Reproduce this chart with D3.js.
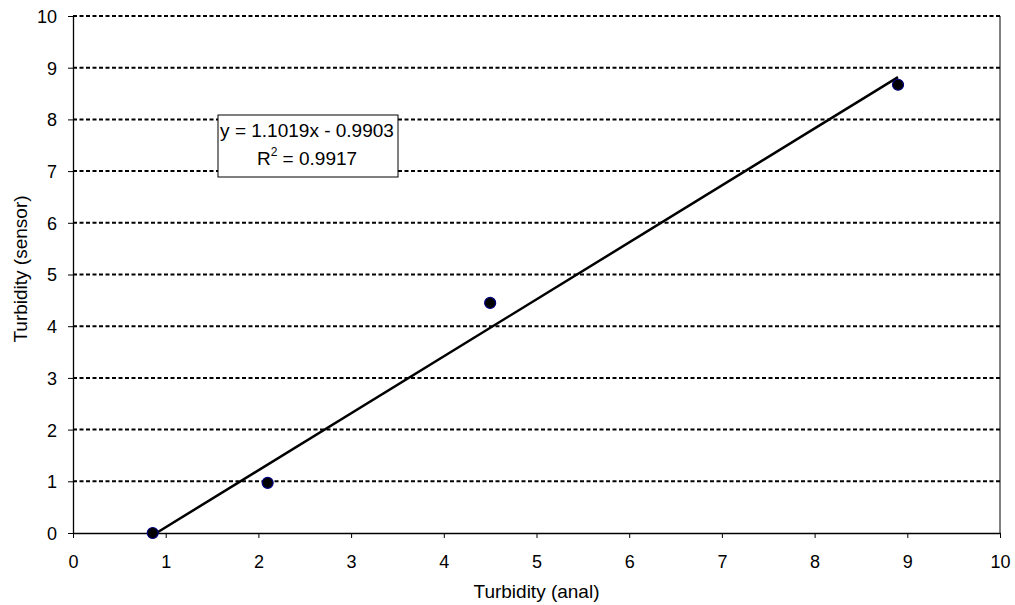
<!DOCTYPE html>
<html>
<head>
<meta charset="utf-8">
<script src="https://cdn.jsdelivr.net/npm/d3@7"></script>
<style>
  body { margin: 0; background: #fff; }
  svg text { font-family: "Liberation Sans", Arial, sans-serif; fill: #000; }
</style>
</head>
<body>
<div id="chart"></div>
<script>
// measured points
const analValues = [0.86, 2.1, 4.5, 8.9];
const sensorValues = [0.0, 0.97, 4.45, 8.67];
const tickValues = [0, 1, 2, 3, 4, 5, 6, 7, 8, 9, 10];
// trendline from the equation label
const slope = 1.1019;
const intercept = -0.9903;
const eqLabel = "y = 1.1019x - 0.9903";
const r2Value = "0.9917";

const width = 1015, height = 605;
const margin = { top: 16, right: 15, bottom: 72, left: 73 };
const tickFont = 18, labelFont = 19;

const svg = d3.select('#chart').append('svg')
    .attr('width', width)
    .attr('height', height);

const x = d3.scaleLinear().domain([0, 10]).range([margin.left, width - margin.right]);
const y = d3.scaleLinear().domain([0, 10]).range([height - margin.bottom, margin.top]);

// dashed gridlines
svg.append('g')
    .selectAll('line')
    .data(tickValues.filter(d => d > 0))
    .enter()
    .append('line')
    .attr('x1', x(0))
    .attr('x2', x(10))
    .attr('y1', d => y(d))
    .attr('y2', d => y(d))
    .attr('stroke', '#000')
    .attr('stroke-width', 2)
    .attr('stroke-dasharray', '4,2.5');

// right border of plot area
svg.append('line')
    .attr('x1', x(10)).attr('x2', x(10))
    .attr('y1', y(10)).attr('y2', y(0))
    .attr('stroke', '#000')
    .attr('stroke-width', 1);

const xAxis = svg.append('g')
    .attr('transform', `translate(0,${y(0)})`)
    .call(d3.axisBottom(x).tickValues(tickValues).tickSize(5).tickSizeOuter(0).tickPadding(9));

const yAxis = svg.append('g')
    .attr('transform', `translate(${x(0)},0)`)
    .call(d3.axisLeft(y).tickValues(tickValues).tickSize(5).tickSizeOuter(0).tickPadding(11));

[xAxis, yAxis].forEach(a => {
    a.attr('font-size', tickFont).attr('font-family', '"Liberation Sans", Arial, sans-serif');
    a.selectAll('path').attr('stroke', '#000').attr('stroke-width', 1.3);
    a.selectAll('line').attr('stroke', '#000');
    a.selectAll('text').attr('fill', '#000');
});
xAxis.selectAll('text').attr('y', 0).attr('dy', 0).attr('transform', 'translate(0,34.5)');
yAxis.selectAll('text').attr('dy', '0.36em');

// trendline
const xMin = d3.min(analValues), xMax = d3.max(analValues);
svg.append('path')
    .datum([xMin, xMax])
    .attr('fill', 'none')
    .attr('stroke', '#000')
    .attr('stroke-width', 2.5)
    .attr('d', d3.line()
        .x(d => x(d))
        .y(d => y(slope * d + intercept)));

// data points
svg.append('g')
    .selectAll('circle')
    .data(analValues.map((v, i) => [v, sensorValues[i]]))
    .enter()
    .append('circle')
    .attr('cx', d => x(d[0]))
    .attr('cy', d => y(d[1]))
    .attr('r', 5.5)
    .attr('fill', '#000')
    .attr('stroke', '#000080')
    .attr('stroke-width', 1.2);

// equation box
const box = svg.append('g').attr('transform', 'translate(218,115)');
box.append('rect')
    .attr('x', 0).attr('y', 0)
    .attr('width', 180).attr('height', 62)
    .attr('fill', '#fff')
    .attr('stroke', '#000')
    .attr('stroke-width', 1);
box.append('text')
    .attr('x', 89).attr('y', 22)
    .attr('text-anchor', 'middle')
    .attr('font-size', labelFont)
    .text(eqLabel);
const r2 = box.append('text')
    .attr('x', 89).attr('y', 50)
    .attr('text-anchor', 'middle')
    .attr('font-size', labelFont);
r2.append('tspan').text('R');
r2.append('tspan').attr('font-size', 12).attr('dy', -9).text('2');
r2.append('tspan').attr('dy', 9).text(' = ' + r2Value);

// axis titles
svg.append('text')
    .attr('x', (x(0) + x(10)) / 2)
    .attr('y', 598)
    .attr('text-anchor', 'middle')
    .attr('font-size', labelFont)
    .text('Turbidity (anal)');

svg.append('text')
    .attr('transform', 'rotate(-90)')
    .attr('x', -269)
    .attr('y', 26.5)
    .attr('text-anchor', 'middle')
    .attr('font-size', labelFont)
    .text('Turbidity (sensor)');
</script>
</body>
</html>
